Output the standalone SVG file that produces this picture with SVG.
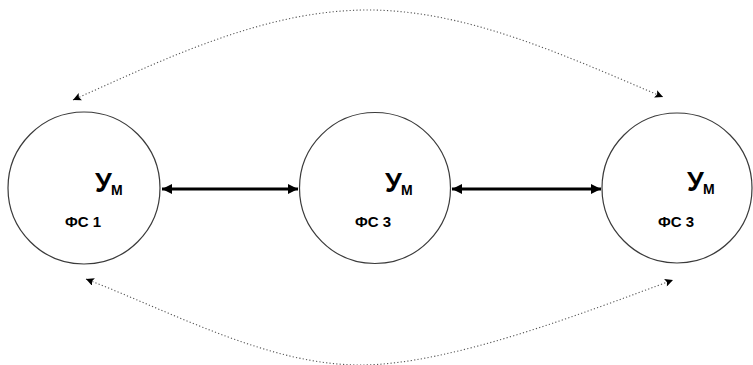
<svg xmlns="http://www.w3.org/2000/svg" width="753" height="365" viewBox="0 0 753 365">
  <style>
    .node { fill: #ffffff; stroke: #3a3a3a; stroke-width: 1.2; }
    .big { font-family: "Liberation Sans", Arial, sans-serif; font-weight: bold; font-size: 27px; fill: #000; }
    .sub { font-family: "Liberation Sans", Arial, sans-serif; font-weight: bold; font-size: 14px; fill: #000; }
    .lbl { font-family: "Liberation Sans", Arial, sans-serif; font-weight: bold; font-size: 15px; fill: #000; }
    .link { fill: none; stroke: #000; stroke-width: 3; }
    .dotted { fill: none; stroke: #555; stroke-width: 1.1; stroke-dasharray: 1.2 2.2; }
  </style>
  <defs>
    <marker id="solidHead" viewBox="0 0 10 10" refX="10" refY="5" markerWidth="11" markerHeight="10" markerUnits="userSpaceOnUse" orient="auto-start-reverse">
      <path d="M0,0 L10,5 L0,10 Z" fill="#000"/>
    </marker>
    <marker id="smallHead" viewBox="0 0 10 10" refX="10" refY="5" markerWidth="10" markerHeight="8" markerUnits="userSpaceOnUse" orient="auto-start-reverse">
      <path d="M0,0 L10,5 L0,10 L2,5 Z" fill="#000"/>
    </marker>
  </defs>

  <g id="connectors">
    <line class="link" x1="162" y1="189" x2="298" y2="189" marker-start="url(#solidHead)" marker-end="url(#solidHead)"/>
    <line class="link" x1="452" y1="189" x2="601" y2="189" marker-start="url(#solidHead)" marker-end="url(#solidHead)"/>
    <path class="dotted" d="M73,100 C173,55 268,10 368,10 C468,10 568,57 663,97" marker-start="url(#smallHead)" marker-end="url(#smallHead)"/>
    <path class="dotted" d="M86,279 C176,314 270,365 360,365 C450,365 583,313 673,280" marker-start="url(#smallHead)" marker-end="url(#smallHead)"/>
  </g>

  <g id="fs1">
    <circle class="node" cx="84" cy="188" r="76"/>
    <text class="big" x="95" y="192">У</text>
    <text class="sub" x="111" y="195">М</text>
    <text class="lbl" x="65" y="227">ФС 1</text>
  </g>

  <g id="fs3-middle">
    <circle class="node" cx="375" cy="188" r="75.5"/>
    <text class="big" x="385" y="192">У</text>
    <text class="sub" x="401" y="195">М</text>
    <text class="lbl" x="355" y="227">ФС 3</text>
  </g>

  <g id="fs3-right">
    <circle class="node" cx="677" cy="188" r="75"/>
    <text class="big" x="687" y="191">У</text>
    <text class="sub" x="703" y="194">М</text>
    <text class="lbl" x="658" y="227">ФС 3</text>
  </g>
</svg>
